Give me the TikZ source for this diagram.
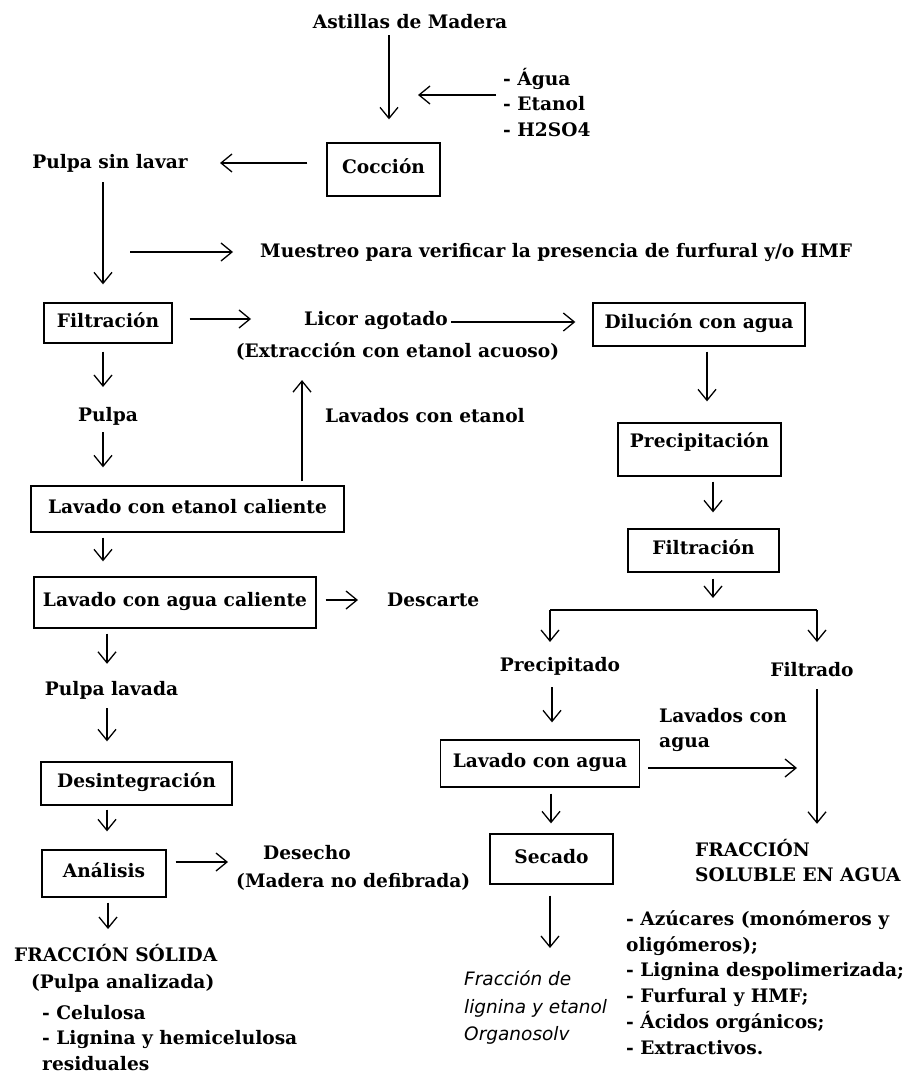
\documentclass[tikz,border=0pt]{standalone}
\usepackage{fontspec}
\setmainfont{DejaVu Serif}
\newfontfamily\notefont{DejaVu Sans}
\usetikzlibrary{arrows.meta,calc}

\begin{document}
\begin{tikzpicture}[x=1pt,y=-1pt,
  lbl/.style={font=\fontsize{18.6}{25.5}\selectfont\bfseries, inner sep=0pt},
  lbll/.style={lbl, anchor=west, align=left},
  box/.style={draw, line width=1.3pt, inner sep=0pt, text height=13pt, text depth=4.4pt,
              font=\fontsize{18.6}{25.5}\selectfont\bfseries},
  arr/.style={line width=1.3pt, -{Straight Barb[length=11pt,width=18pt,line width=1.3pt]}},
  ln/.style={line width=1.3pt},
]
\useasboundingbox[fill=white] (0,0) rectangle (911,1075);

% ---------- left column ----------
\node[lbl] (astillas) at (410,22) {Astillas de Madera};
\node[lbll] (inputs) at (503,102.5) {- Água\\- Etanol\\- H2SO4};
\node[box, minimum width=113pt, minimum height=53pt] (coccion) at (383.5,169.5) {Cocción};
\node[lbl] (pulpasl) at (110,163) {Pulpa sin lavar};
\node[lbll] (muestreo) at (260,253) {Muestreo para verificar la presencia de furfural y/o HMF};

\node[box, minimum width=128pt, minimum height=40pt] (filt1) at (108,323) {Filtración};
\node[lbll] (licor) at (304,320) {Licor agotado};
\node[lbl] (extr) at (397.5,352) {(Extracción con etanol acuoso)};
\node[box, minimum width=212pt, minimum height=43pt] (dil) at (699,324.5) {Dilución con agua};
\node[lbl] (pulpa) at (108,416) {Pulpa};
\node[lbll] (lavcon) at (325,416) {Lavados con etanol};
\node[box, minimum width=313pt, minimum height=46pt] (lavet) at (187.5,509) {Lavado con etanol caliente};
\node[box, minimum width=282pt, minimum height=51pt] (lavag) at (175,602.5) {Lavado con agua caliente};
\node[lbll] (descarte) at (387,600) {Descarte};
\node[lbl] (pulpalav) at (111.5,690) {Pulpa lavada};
\node[box, minimum width=191pt, minimum height=43pt] (desint) at (136.5,783.5) {Desintegración};
\node[box, minimum width=124pt, minimum height=47pt] (analisis) at (104,873.5) {Análisis};
\node[lbll] (desecho) at (263,853) {Desecho};
\node[lbll] (madera) at (236,882) {(Madera no defibrada)};
\node[lbll] (fsol) at (14,953) {FRACCIÓN SÓLIDA};
\node[lbll] (panal) at (31,983) {(Pulpa analizada)};
\node[lbll] (fsollist) at (42,1038) {- Celulosa\\- Lignina y hemicelulosa\\residuales};

% ---------- right column ----------
\node[box, minimum width=163pt, minimum height=53pt, text depth=16.4pt] (prec) at (699.5,449.5) {Precipitación};
\node[box, minimum width=151pt, minimum height=43pt] (filt2) at (703.5,550.5) {Filtración};
\coordinate (split) at (713,610);
\coordinate (splitL) at (550,610);
\coordinate (splitR) at (817,610);
\node[lbl] (precip) at (560,666) {Precipitado};
\node[lbl] (filtrado) at (812,670) {Filtrado};
\node[box, minimum width=199pt, minimum height=47pt] (lavagua) at (540,763.5) {Lavado con agua};
\node[lbll] (lavcagua) at (659,730) {Lavados con\\agua};
\node[box, minimum width=123pt, minimum height=50pt] (secado) at (551.5,859) {Secado};
\node[anchor=west, align=left, inner sep=0pt, font=\notefont\itshape\fontsize{18.5}{27.5}\selectfont] (organo) at (464,1008)
  {Fracción de\\lignina y etanol\\Organosolv};
\node[lbll] (fsolub) at (695,860.5) {FRACCIÓN\\SOLUBLE EN AGUA};
\node[lbll, font=\fontsize{18.6}{25.8}\selectfont\bfseries] (solist) at (626,982.5)
  {- Azúcares (monómeros y\\oligómeros);\\- Lignina despolimerizada;\\- Furfural y HMF;\\- Ácidos orgánicos;\\- Extractivos.};

% ---------- connectors ----------
\draw[arr] ($(astillas.south -| 389,0)+(0,6)$) -- ($(coccion.north -| 389,0)+(0,-23)$);
\draw[arr] ($(inputs.west |- 0,95)+(-7,0)$) -- (418,95);
\draw[arr] ($(coccion.west |- 0,163)+(-19,0)$) -- (220,163);
\draw[arr] ($(pulpasl.south -| 103,0)+(0,10)$) -- ($(filt1.north -| 103,0)+(0,-18)$);
\draw[arr] (130,252) -- ($(muestreo.west)+(-27,-1)$);
\draw[arr] ($(filt1.east)+(17,-4)$) -- (251,319);
\draw[arr] ($(licor.east)+(3,2)$) -- ($(dil.west)+(-17,-2.5)$);
\draw[arr] ($(filt1.south -| 103,0)+(0,8)$) -- (103,387);
\draw[arr] ($(pulpa.south -| 103,0)+(0,7)$) -- ($(lavet.north -| 103,0)+(0,-18)$);
\draw[arr] ($(lavet.north -| 302,0)+(0,-4)$) -- ($(extr.south -| 302,0)+(0,19)$);
\draw[arr] ($(lavet.south -| 103,0)+(0,5)$) -- ($(lavag.north -| 103,0)+(0,-15)$);
\draw[arr] ($(lavag.east)+(9,-2.5)$) -- ($(descarte.west)+(-29,0)$);
\draw[arr] ($(lavag.south -| 107,0)+(0,5)$) -- ($(pulpalav.north -| 107,0)+(0,-17)$);
\draw[arr] ($(pulpalav.south -| 107,0)+(0,9)$) -- ($(desint.north -| 107,0)+(0,-20)$);
\draw[arr] ($(desint.south -| 107,0)+(0,4)$) -- ($(analisis.north -| 107,0)+(0,-18)$);
\draw[arr] ($(analisis.east)+(9,-11.5)$) -- ($(desecho.west)+(-35,9)$);
\draw[arr] ($(analisis.south -| 108,0)+(0,5)$) -- ($(fsol.north -| 108,0)+(0,-15)$);

\draw[arr] ($(dil.south -| 707,0)+(0,5)$) -- ($(prec.north -| 707,0)+(0,-21)$);
\draw[arr] ($(prec.south -| 713,0)+(0,5)$) -- ($(filt2.north -| 713,0)+(0,-16)$);
\draw[arr] ($(filt2.south -| 713,0)+(0,6)$) -- ($(split)+(0,-12)$);
\draw[ln] (splitL) -- (splitR);
\draw[arr] (splitL) -- ($(splitL)+(0,32)$);
\draw[arr] (splitR) -- ($(splitR)+(0,32)$);
\draw[arr] ($(precip.south -| 552,0)+(0,12)$) -- ($(lavagua.north -| 552,0)+(0,-17)$);
\draw[arr] ($(lavagua.east)+(8,4.5)$) -- (797,768);
\draw[arr] ($(filtrado.south -| 817,0)+(0,12)$) -- ($(fsolub.north -| 817,0)+(0,-15)$);
\draw[arr] ($(lavagua.south -| 551,0)+(0,6)$) -- ($(secado.north -| 551,0)+(0,-10)$);
\draw[arr] ($(secado.south -| 550,0)+(0,11)$) -- (550,948);
\end{tikzpicture}
\end{document}
